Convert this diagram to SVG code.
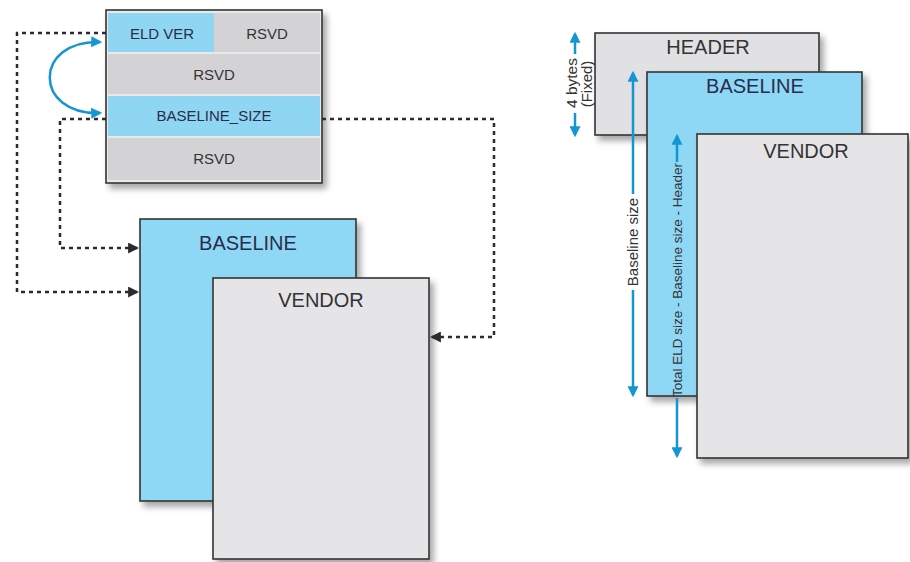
<svg xmlns="http://www.w3.org/2000/svg" width="910" height="562" viewBox="0 0 910 562">
<defs>
<filter id="sh" x="-10%" y="-10%" width="130%" height="130%">
<feDropShadow dx="4" dy="5" stdDeviation="3" flood-color="#000" flood-opacity="0.35"/>
</filter>
<marker id="ah" viewBox="0 0 10 10" refX="9" refY="5" markerWidth="11" markerHeight="11" markerUnits="userSpaceOnUse" orient="auto-start-reverse">
<path d="M0,0 L10,5 L0,10 Z" fill="#2b2b2b"/>
</marker>
<marker id="bh" viewBox="0 0 10 10" refX="8" refY="5" markerWidth="11" markerHeight="11" markerUnits="userSpaceOnUse" orient="auto-start-reverse">
<path d="M0,0 L10,5 L0,10 Z" fill="#1596d3"/>
</marker>
</defs>
<style>
.box{stroke:#333;stroke-width:1.6;filter:url(#sh)}
.blue{fill:#8fd8f5}
.vend{fill:#e5e5e7}
.head{fill:#e1e1e3}
.cb{fill:#8fd6f2}
.cg{fill:#d3d3d5}
.t{font-family:"Liberation Sans",Arial,sans-serif;text-anchor:middle;fill:#333}
.tn{fill:#2a2c4a}
.dash{fill:none;stroke:#2b2b2b;stroke-width:2.5;stroke-dasharray:4 4}
.barr{fill:none;stroke:#1596d3;stroke-width:2.5}
</style>
<rect width="910" height="562" fill="#fff"/>

<g id="register">
<rect class="box" x="106" y="10" width="216" height="173" fill="#e9e9eb"/>
<rect class="cb" x="108" y="13" width="106" height="39"/>
<rect class="cg" x="214" y="13" width="106" height="39"/>
<rect class="cg" x="108" y="54" width="212" height="40"/>
<rect class="cb" x="108" y="96" width="212" height="40"/>
<rect class="cg" x="108" y="138" width="212" height="42"/>
<text class="t tn" x="162" y="39" font-size="15">ELD VER</text>
<text class="t" x="267" y="39" font-size="15">RSVD</text>
<text class="t" x="214" y="80" font-size="15">RSVD</text>
<text class="t tn" x="214" y="121" font-size="15">BASELINE_SIZE</text>
<text class="t" x="214" y="164" font-size="15">RSVD</text>
</g>

<g id="left-baseline">
<rect class="box blue" x="140" y="219" width="216" height="282"/>
<text class="t tn" x="248" y="250" font-size="20">BASELINE</text>
</g>
<g id="left-vendor">
<rect class="box vend" x="213" y="278" width="216" height="281"/>
<text class="t" x="321" y="307" font-size="20">VENDOR</text>
</g>

<g id="right-header">
<rect class="box head" x="595" y="33" width="224" height="102"/>
<text class="t" x="708" y="54" font-size="20">HEADER</text>
</g>
<g id="right-baseline">
<rect class="box blue" x="647" y="72" width="215" height="324"/>
<text class="t tn" x="755" y="93" font-size="20">BASELINE</text>
</g>
<g id="right-vendor">
<rect class="box vend" x="697" y="134" width="211" height="324"/>
<text class="t" x="806" y="158" font-size="20">VENDOR</text>
</g>

<g id="connectors">
<path class="dash" d="M106,33 H17 V292 H138" marker-end="url(#ah)"/>
<path class="dash" d="M106,119 H60 V248 H138" marker-end="url(#ah)"/>
<path class="dash" d="M322,119 H494 V337 H431" marker-end="url(#ah)"/>
<path class="barr" d="M100,42 C33,40 33,115 100,113" marker-start="url(#bh)" marker-end="url(#bh)"/>

<path class="barr" d="M575,54 V34" marker-end="url(#bh)"/>
<path class="barr" d="M575,113 V135" marker-end="url(#bh)"/>
<text class="t" font-size="15.5" transform="translate(577,83) rotate(-90)">4 bytes</text>
<text class="t" font-size="15" transform="translate(592,84) rotate(-90)">(Fixed)</text>

<path class="barr" d="M633,194 V73" marker-end="url(#bh)"/>
<path class="barr" d="M633,290 V395" marker-end="url(#bh)"/>
<text class="t" font-size="15" transform="translate(638,242) rotate(-90)">Baseline size</text>

<path class="barr" d="M677,162 V136" marker-end="url(#bh)"/>
<path class="barr" d="M677,398 V456" marker-end="url(#bh)"/>
<text class="t" font-size="13.5" transform="translate(682,280) rotate(-90)">Total ELD size - Baseline size - Header</text>
</g>
</svg>
